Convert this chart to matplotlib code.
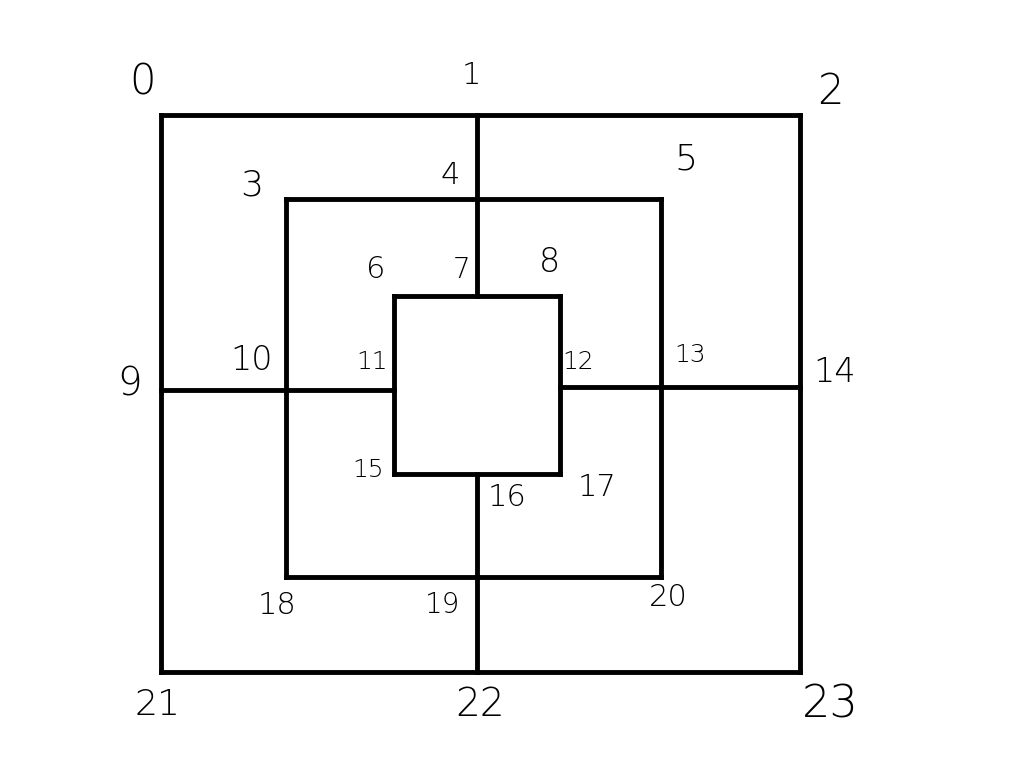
import matplotlib.pyplot as plt

# board points (pixel coords of the sketch), numbered 0..23
node_x = [161, 477, 800, 286, 477, 661, 394, 477, 560, 161, 286, 394,
          560, 661, 800, 394, 477, 560, 286, 477, 661, 161, 477, 800]
node_y = [115, 115, 115, 199, 199, 199, 296, 296, 296, 390, 390, 390,
          387, 387, 387, 474, 474, 474, 577, 577, 577, 672, 672, 672]

# lines between points
edges = [(0, 2), (2, 23), (23, 21), (21, 0),
         (3, 5), (5, 20), (20, 18), (18, 3),
         (6, 8), (8, 17), (17, 15), (15, 6),
         (1, 7), (16, 22), (9, 11), (12, 14)]

# where each number was written
label_x = [143, 471, 830, 252, 450, 686, 376, 462, 550, 130, 252, 372,
           578, 690, 835, 368, 507, 597, 277, 443, 668, 158, 480, 830]
label_y = [82, 75, 92, 185, 175, 160, 270, 270, 262, 385, 360, 362,
           362, 355, 372, 470, 497, 488, 605, 605, 597, 705, 705, 705]
label_size = [30, 22, 30, 26, 22, 26, 22, 20, 24, 28, 24, 18,
              18, 18, 24, 18, 22, 22, 22, 20, 22, 26, 28, 32]

fig = plt.figure(figsize=(10.2, 7.72), dpi=100)
ax = fig.add_axes([0, 0, 1, 1])
ax.set_xlim(0, 1020)
ax.set_ylim(772, 0)
ax.axis('off')

for a, b in edges:
    ax.plot([node_x[a], node_x[b]], [node_y[a], node_y[b]],
            color='black', lw=3.5, solid_capstyle='projecting')

for i in range(24):
    ax.text(label_x[i], label_y[i], str(i), fontsize=label_size[i],
            ha='center', va='center', color='black', fontweight='light')

fig.savefig('out.png', dpi=100, facecolor='white')
